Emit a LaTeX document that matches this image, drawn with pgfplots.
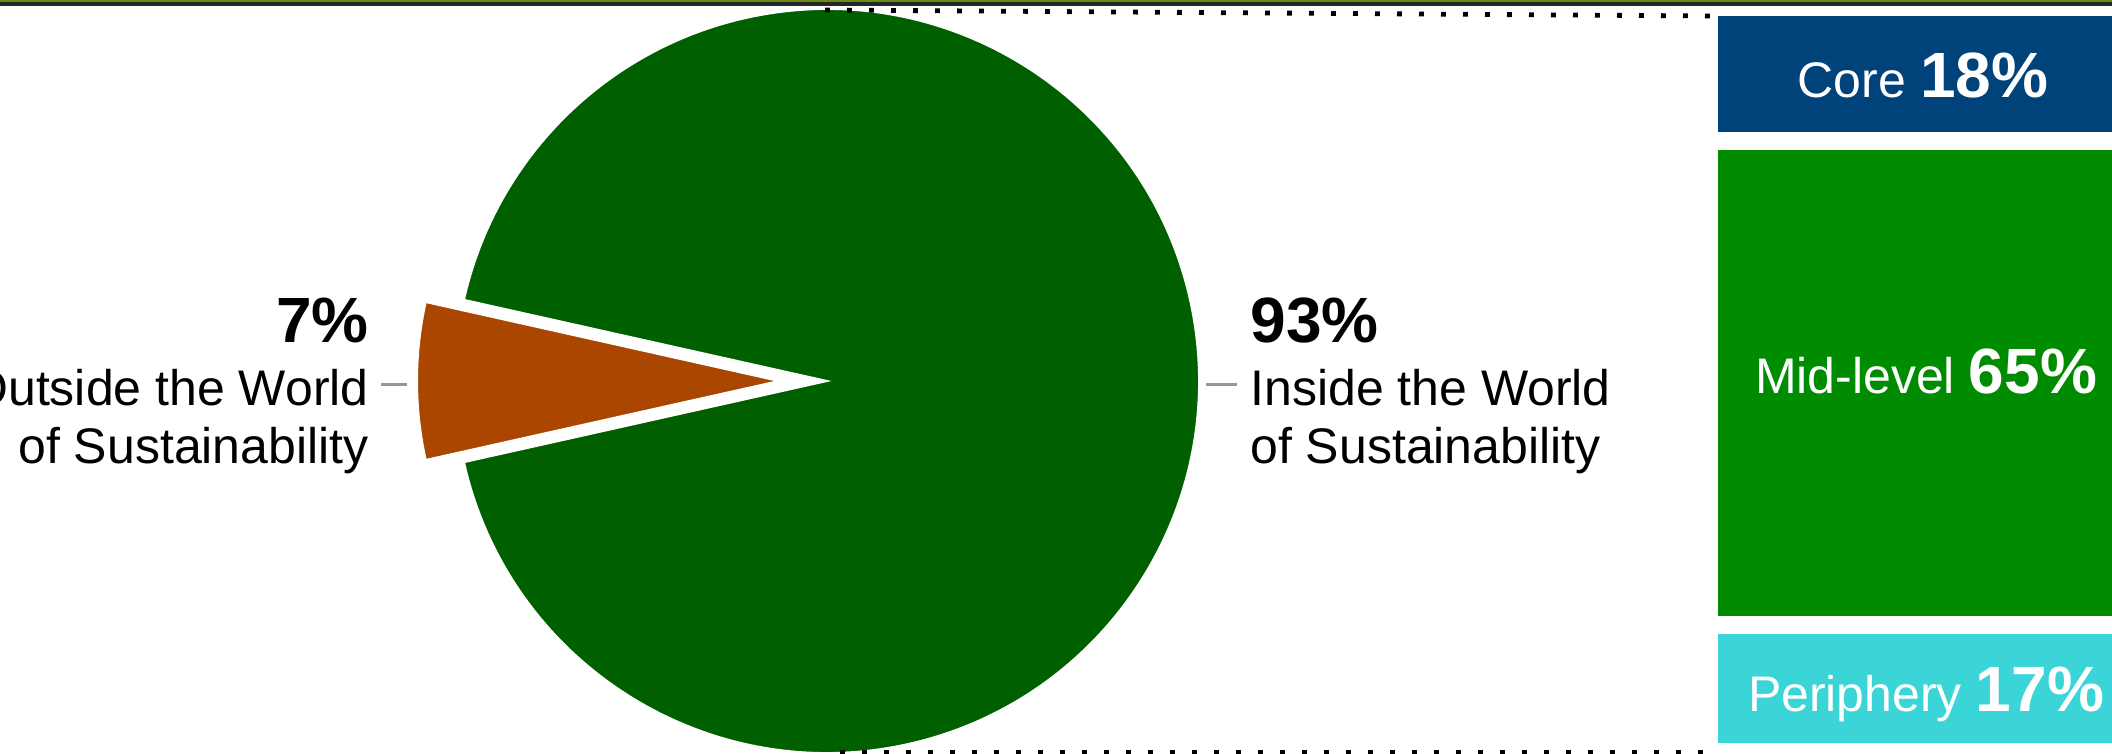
\documentclass[border=0pt]{standalone}
\usepackage{fontspec}
\setmainfont{Liberation Sans}
\usepackage{pgfplots}
\usepackage{pgfplotstable}
\pgfplotsset{compat=1.18}

\definecolor{piegreen}{RGB}{0,96,0}
\definecolor{pieorange}{RGB}{170,70,0}
\definecolor{coreblue}{RGB}{0,66,122}
\definecolor{midgreen}{RGB}{0,140,0}
\definecolor{periph}{RGB}{59,213,216}
\definecolor{topgreen}{RGB}{104,140,24}
\definecolor{leader}{RGB}{150,150,150}

\pgfplotstableread{
label value
Outside 7
Inside 93
}\pietable

\pgfplotstableread{
x core mid periphery
1923 18 65 17
}\bartable

\newcommand{\regf}{\fontsize{25bp}{29bp}\selectfont}
\newcommand{\bigf}{\fontsize{32bp}{36bp}\selectfont\bfseries}

\begin{document}
\begin{tikzpicture}
\path[use as bounding box] (0,0) rectangle (1056bp,377bp);
\clip (0,0) rectangle (1056bp,377bp);

\pgfplotstablegetelem{0}{value}\of\pietable
\pgfmathsetmacro\halfang{\pgfplotsretval*3.6/2}
\pgfmathsetmacro\oA{180-\halfang}
\pgfmathsetmacro\oB{180+\halfang}
\pgfmathsetmacro\gB{360+\oA}

% stacked bar
\begin{axis}[at={(0,0)}, anchor=south west, width=1056bp, height=377bp,
  scale only axis, xmin=0, xmax=2112, ymin=-0.94, ymax=100.27, y dir=reverse,
  hide axis, clip=false, ybar stacked, bar width=214bp]
\addplot[fill=coreblue, draw=white, line width=9bp] table[x=x, y=core] {\bartable};
\addplot[fill=midgreen, draw=white, line width=9bp] table[x=x, y=mid] {\bartable};
\addplot[fill=periph, draw=white, line width=9bp] table[x=x, y=periphery] {\bartable};
\end{axis}

% pie and annotations (pixel coordinates)
\begin{axis}[at={(0,0)}, anchor=south west, width=1056bp, height=377bp,
  scale only axis, xmin=0, xmax=2112, ymin=0, ymax=754, y dir=reverse,
  hide axis, clip=false]
\fill[piegreen, draw=white, line width=1bp] (axis cs:827,381) -- ++(\oB:186bp)
   arc[start angle=\oB, end angle=\gB, radius=186bp] -- cycle;
\fill[pieorange, draw=white, line width=1bp] (axis cs:779,381) -- ++(\oA:181bp)
   arc[start angle=\oA, end angle=\oB, radius=181bp] -- cycle;

\fill[topgreen] (axis cs:0,0) rectangle (axis cs:2112,2.5);
\fill[black!85] (axis cs:0,2.5) rectangle (axis cs:2112,6.5);

\draw[black, line width=2.4bp, dash pattern=on 2.4bp off 8.6bp] (axis cs:825,10) -- (axis cs:1714,16);
\draw[black, line width=2.4bp, dash pattern=on 2.4bp off 8.6bp] (axis cs:840,752) -- (axis cs:1718,752);

\draw[leader, line width=1.5bp] (axis cs:381,384) -- (axis cs:407,384);
\draw[leader, line width=1.5bp] (axis cs:1206,384) -- (axis cs:1237,384);

\node[anchor=base east, inner sep=0pt] at (axis cs:369,342) {\bigf 7\%};
\node[anchor=base east, inner sep=0pt] at (axis cs:369,405) {\regf Outside the World};
\node[anchor=base east, inner sep=0pt] at (axis cs:369,463) {\regf of Sustainability};

\node[anchor=base west, inner sep=0pt] at (axis cs:1250,342) {\bigf 93\%};
\node[anchor=base west, inner sep=0pt] at (axis cs:1250,405) {\regf Inside the World};
\node[anchor=base west, inner sep=0pt] at (axis cs:1250,463) {\regf of Sustainability};

\node[anchor=base, inner sep=0pt, text=white] at (axis cs:1923,97) {\regf Core \bigf 18\%};
\node[anchor=base, inner sep=0pt, text=white] at (axis cs:1926,393) {\regf Mid-level \bigf 65\%};
\node[anchor=base, inner sep=0pt, text=white] at (axis cs:1926,711) {\regf Periphery \bigf 17\%};
\end{axis}
\end{tikzpicture}
\end{document}
